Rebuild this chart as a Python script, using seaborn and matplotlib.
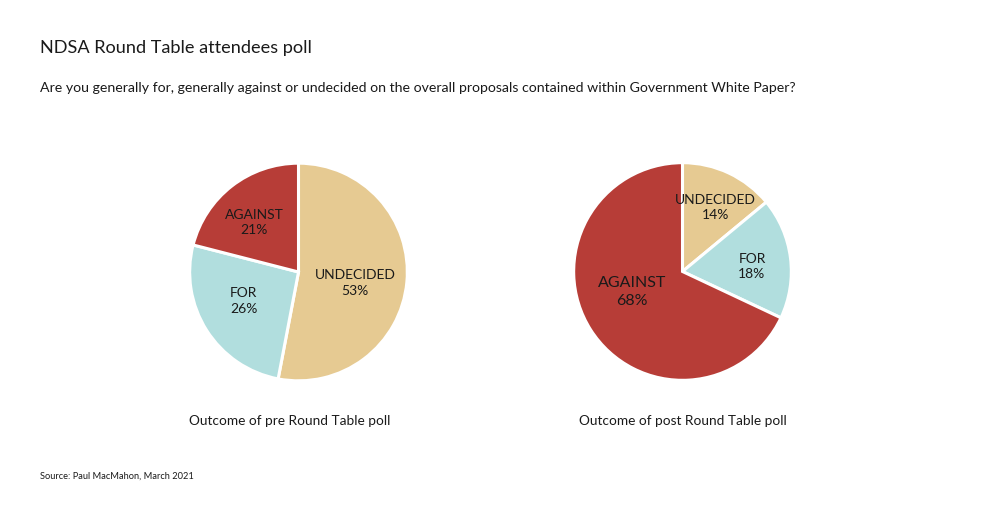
import numpy as np
import matplotlib
matplotlib.use("Agg")
import matplotlib.pyplot as plt
import seaborn as sns

# ---- data ----
pre_labels = ["UNDECIDED", "FOR", "AGAINST"]
pre_values = [53, 26, 21]
post_labels = ["UNDECIDED", "FOR", "AGAINST"]
post_values = [14, 18, 68]
title = "NDSA Round Table attendees poll"
subtitle = ("Are you generally for, generally against or undecided on the overall "
            "proposals contained within Government White Paper?")
pre_caption = "Outcome of pre Round Table poll"
post_caption = "Outcome of post Round Table poll"
source = "Source: Paul MacMahon, March 2021"

# ---- style ----
sns.set_theme(style="white")
plt.rcParams["font.family"] = ["Lato", "DejaVu Sans"]
colors = {"UNDECIDED": "#E6CA92", "FOR": "#B1DEDE", "AGAINST": "#B73D37"}
txt = "#1a1a1a"

W, H = 1000, 507
fig = plt.figure(figsize=(W / 100, H / 100), dpi=100)
fig.patch.set_facecolor("white")

# label placement: (radius fraction, angle offset from wedge mid-angle in deg, font size)
pre_lab_pos = {"UNDECIDED": (0.53, -5.5, 10.0), "FOR": (0.57, -4.5, 10.0),
               "AGAINST": (0.61, 4.0, 10.0)}
post_lab_pos = {"UNDECIDED": (0.66, -2.0, 10.0), "FOR": (0.64, -3.0, 10.0),
                "AGAINST": (0.50, -10.0, 11.5)}


def draw_pie(cx, cy, r, labels, values, lab_pos):
    ax = fig.add_axes([(cx - r) / W, 1 - (cy + r) / H, 2 * r / W, 2 * r / H])
    wedges, _ = ax.pie(values, colors=[colors[l] for l in labels], startangle=90,
                       counterclock=False, radius=1.0,
                       wedgeprops=dict(edgecolor="white", linewidth=2.2))
    for w, lab, v in zip(wedges, labels, values):
        mid = 0.5 * (w.theta1 + w.theta2)
        rf, dang, fs = lab_pos[lab]
        a = np.deg2rad(mid + dang)
        ax.text(rf * np.cos(a), rf * np.sin(a), f"{lab}\n{v}%", ha="center",
                va="center", fontsize=fs, color=txt, linespacing=1.35)
    ax.set_xlim(-1.02, 1.02)
    ax.set_ylim(-1.02, 1.02)
    ax.axis("off")
    return ax


draw_pie(298.5, 272, 111, pre_labels, pre_values, pre_lab_pos)
draw_pie(682.5, 271.5, 111, post_labels, post_values, post_lab_pos)

fig.text(40 / W, 1 - 48 / H, title, fontsize=13.1, color=txt, ha="left", va="center")
fig.text(40 / W, 1 - 88 / H, subtitle, fontsize=10.15, color=txt, ha="left", va="center")
fig.text(289.5 / W, 1 - 421 / H, pre_caption, fontsize=9.8, color=txt, ha="center", va="center")
fig.text(682.5 / W, 1 - 421 / H, post_caption, fontsize=9.8, color=txt, ha="center", va="center")
fig.text(40 / W, 1 - 476 / H, source, fontsize=6.7, color=txt, ha="left", va="center")

fig.savefig("out.png", dpi=100, facecolor="white")
